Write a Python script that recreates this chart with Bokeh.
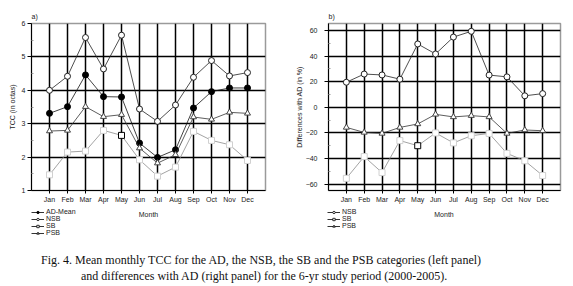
from bokeh.plotting import figure
from bokeh.models import (ColumnDataSource, Legend, LegendItem, FixedTicker, Div, Title, Label)
from bokeh.layouts import column, row
from bokeh.embed import file_html
from bokeh.resources import INLINE

months = ["Jan", "Feb", "Mar", "Apr", "May", "Jun", "Jul", "Aug", "Sep", "Oct", "Nov", "Dec"]
month_idx = list(range(1, 13))

# Panel a) TCC in octas
ad_mean = [3.31, 3.51, 4.46, 3.81, 3.80, 2.42, 1.99, 2.22, 3.47, 3.96, 4.07, 4.07]
nsb_tcc = [4.00, 4.42, 5.58, 4.64, 5.65, 3.44, 3.07, 3.56, 4.39, 4.89, 4.43, 4.53]
sb_tcc = [1.47, 2.15, 2.18, 2.80, 2.65, 1.92, 1.43, 1.70, 2.77, 2.50, 2.37, 1.90]
psb_tcc = [2.78, 2.80, 3.51, 3.21, 3.27, 2.27, 1.82, 2.07, 3.20, 3.13, 3.34, 3.31]

# Panel b) differences with AD (%)
nsb_diff = [19.6, 26.0, 25.3, 22.0, 49.5, 41.7, 54.9, 59.4, 25.2, 23.8, 9.0, 10.7]
sb_diff = [-55.5, -38.5, -51.0, -26.0, -30.0, -20.0, -27.8, -22.2, -20.4, -36.0, -41.8, -53.3]
psb_diff = [-15.7, -19.6, -20.4, -15.7, -13.0, -5.5, -7.5, -6.5, -7.5, -20.4, -17.7, -18.3]

FONT = "Liberation Sans"
TXT = "#222222"
BORDER = "#9a9a9a"
TOP = 23
FRAME_H = 167
BOTTOM = 18
MAIN_H = TOP + FRAME_H + BOTTOM
LEG_H = 30


def base_fig(width, border_left, border_right, y_range, yticks, ylabel, panel,
             ylab_standoff, ylabel_standoff):
    p = figure(width=width, height=MAIN_H, output_backend="svg", toolbar_location=None,
               x_range=(0, 13), y_range=y_range,
               min_border_left=border_left, min_border_right=border_right,
               min_border_top=TOP, min_border_bottom=BOTTOM)
    p.title = Title(text=panel, text_font_size="7px", text_font=FONT,
                    text_font_style="normal", offset=0, standoff=8, text_color=TXT)
    p.outline_line_color = BORDER
    p.outline_line_width = 1.5
    p.background_fill_color = "white"
    p.border_fill_color = "white"

    xa = p.xaxis[0]
    xa.ticker = FixedTicker(ticks=month_idx)
    xa.major_label_overrides = {i: m for i, m in zip(month_idx, months)}
    ya = p.yaxis[0]
    ya.ticker = FixedTicker(ticks=yticks[0], minor_ticks=yticks[1])
    ya.axis_label = ylabel
    for ax in (xa, ya):
        ax.axis_line_color = "black"
        ax.axis_line_width = 1
        ax.major_tick_line_color = "black"
        ax.major_tick_out = 4
        ax.major_tick_in = 0
        ax.minor_tick_line_color = BORDER
        ax.minor_tick_out = 0
        ax.minor_tick_in = 2
        ax.major_label_text_font = FONT
        ax.major_label_text_font_size = "7px"
        ax.major_label_text_color = TXT
        ax.major_label_standoff = 2
        ax.axis_label_text_font = FONT
        ax.axis_label_text_font_size = "7px"
        ax.axis_label_text_font_style = "normal"
        ax.axis_label_text_color = TXT
    ya.major_label_standoff = ylab_standoff
    ya.axis_label_standoff = ylabel_standoff
    xa.major_tick_out = 3
    xa.minor_tick_line_color = None

    p.xgrid.grid_line_color = "black"
    p.ygrid.grid_line_color = "black"
    p.xgrid.grid_line_width = 1.5
    p.ygrid.grid_line_width = 1.5
    return p


STYLES = {
    "AD-Mean": dict(marker="circle", fill="black", line="#111111", mline="black"),
    "NSB": dict(marker="circle", fill="white", line="#222222", mline="#222222"),
    "SB": dict(marker="square", fill="white", line="#8c8c8c", mline="#d0d0d0"),
    "PSB": dict(marker="triangle", fill="white", line="#333333", mline="#444444"),
}


def add_series(p, y, name):
    st = STYLES[name]
    src = ColumnDataSource(dict(x=month_idx, y=y))
    p.line("x", "y", source=src, line_color=st["line"], line_width=0.8)
    if name == "SB":
        src.data["lc"] = ["black" if m == "May" else st["mline"] for m in months]
        p.scatter("x", "y", source=src, marker=st["marker"], size=6,
                  fill_color=st["fill"], line_color="lc", line_width=1)
    else:
        p.scatter("x", "y", source=src, marker=st["marker"], size=6,
                  fill_color=st["fill"], line_color=st["mline"], line_width=1)


def legend_fig(width, border_left, border_right, series):
    # the series sit far below the visible band: only their legend swatches show
    q = figure(width=width, height=LEG_H, output_backend="svg", toolbar_location=None,
               x_range=(0, 13), y_range=(100, 100 + LEG_H),
               x_axis_type=None, y_axis_type=None,
               min_border_left=border_left, min_border_right=border_right,
               min_border_top=0, min_border_bottom=0)
    q.outline_line_color = None
    q.background_fill_alpha = 0
    q.border_fill_alpha = 0
    q.xgrid.visible = False
    q.ygrid.visible = False
    items = []
    for n, vals in series:
        st = STYLES[n]
        r1 = q.line(month_idx, vals, line_color="black", line_width=0.8)
        r2 = q.scatter(month_idx, vals, marker=st["marker"], size=5,
                       fill_color="black" if n == "AD-Mean" else "white",
                       line_color="black", line_width=0.8)
        items.append(LegendItem(label=n, renderers=[r1, r2]))
    leg = Legend(items=items, orientation="vertical", location="top_left",
                 glyph_width=13, glyph_height=6, label_height=6, spacing=0,
                 padding=0, margin=0, label_standoff=2,
                 label_text_font=FONT, label_text_font_size="7px",
                 label_text_color=TXT,
                 border_line_color=None, background_fill_alpha=0)
    q.add_layout(leg, "center")
    q.add_layout(Label(x=6.5, y=100 + LEG_H - 6, text="Month", text_align="center",
                       text_baseline="middle", text_font=FONT, text_font_size="7px",
                       text_color=TXT))
    return q


# ---------- panel a ----------
pa = base_fig(290, 31, 25, (1, 6), ([1, 2, 3, 4, 5, 6], [1.5, 2.5, 3.5, 4.5, 5.5]),
              "TCC (in octas)", "a)", 2, 3)
add_series(pa, ad_mean, "AD-Mean")
add_series(pa, nsb_tcc, "NSB")
add_series(pa, sb_tcc, "SB")
add_series(pa, psb_tcc, "PSB")
la = legend_fig(290, 31, 25, [("AD-Mean", ad_mean), ("NSB", nsb_tcc),
                              ("SB", sb_tcc), ("PSB", psb_tcc)])

# ---------- panel b ----------
pb = base_fig(275, 38, 5, (-65, 65.5),
              ([-60, -40, -20, 0, 20, 40, 60], [-50, -30, -10, 10, 30, 50]),
              "Differences with AD (in %)", "b)", 7, 0)
add_series(pb, nsb_diff, "NSB")
add_series(pb, sb_diff, "SB")
add_series(pb, psb_diff, "PSB")
lb = legend_fig(275, 37, 5, [("NSB", nsb_diff), ("SB", sb_diff), ("PSB", psb_diff)])

caption = Div(text=("<div style='padding-left:41px'>Fig. 4. Mean monthly TCC for the AD, the NSB, the SB and the PSB categories (left panel)</div>"
                    "<div style='padding-left:81px'>and differences with AD (right panel) for the 6-yr study period (2000-2005).</div>"),
              width=565, height=286 - MAIN_H - LEG_H, margin=(0, 0, 0, 0),
              styles={"font-family": "Liberation Serif", "font-size": "12px",
                      "line-height": "16px", "text-align": "left", "color": "#111111",
                      "padding-top": "14px", "white-space": "nowrap"})

layout = column(row(pa, pb, spacing=0), row(la, lb, spacing=0), caption, spacing=0)
open("out.html", "w").write(file_html(layout, INLINE))
